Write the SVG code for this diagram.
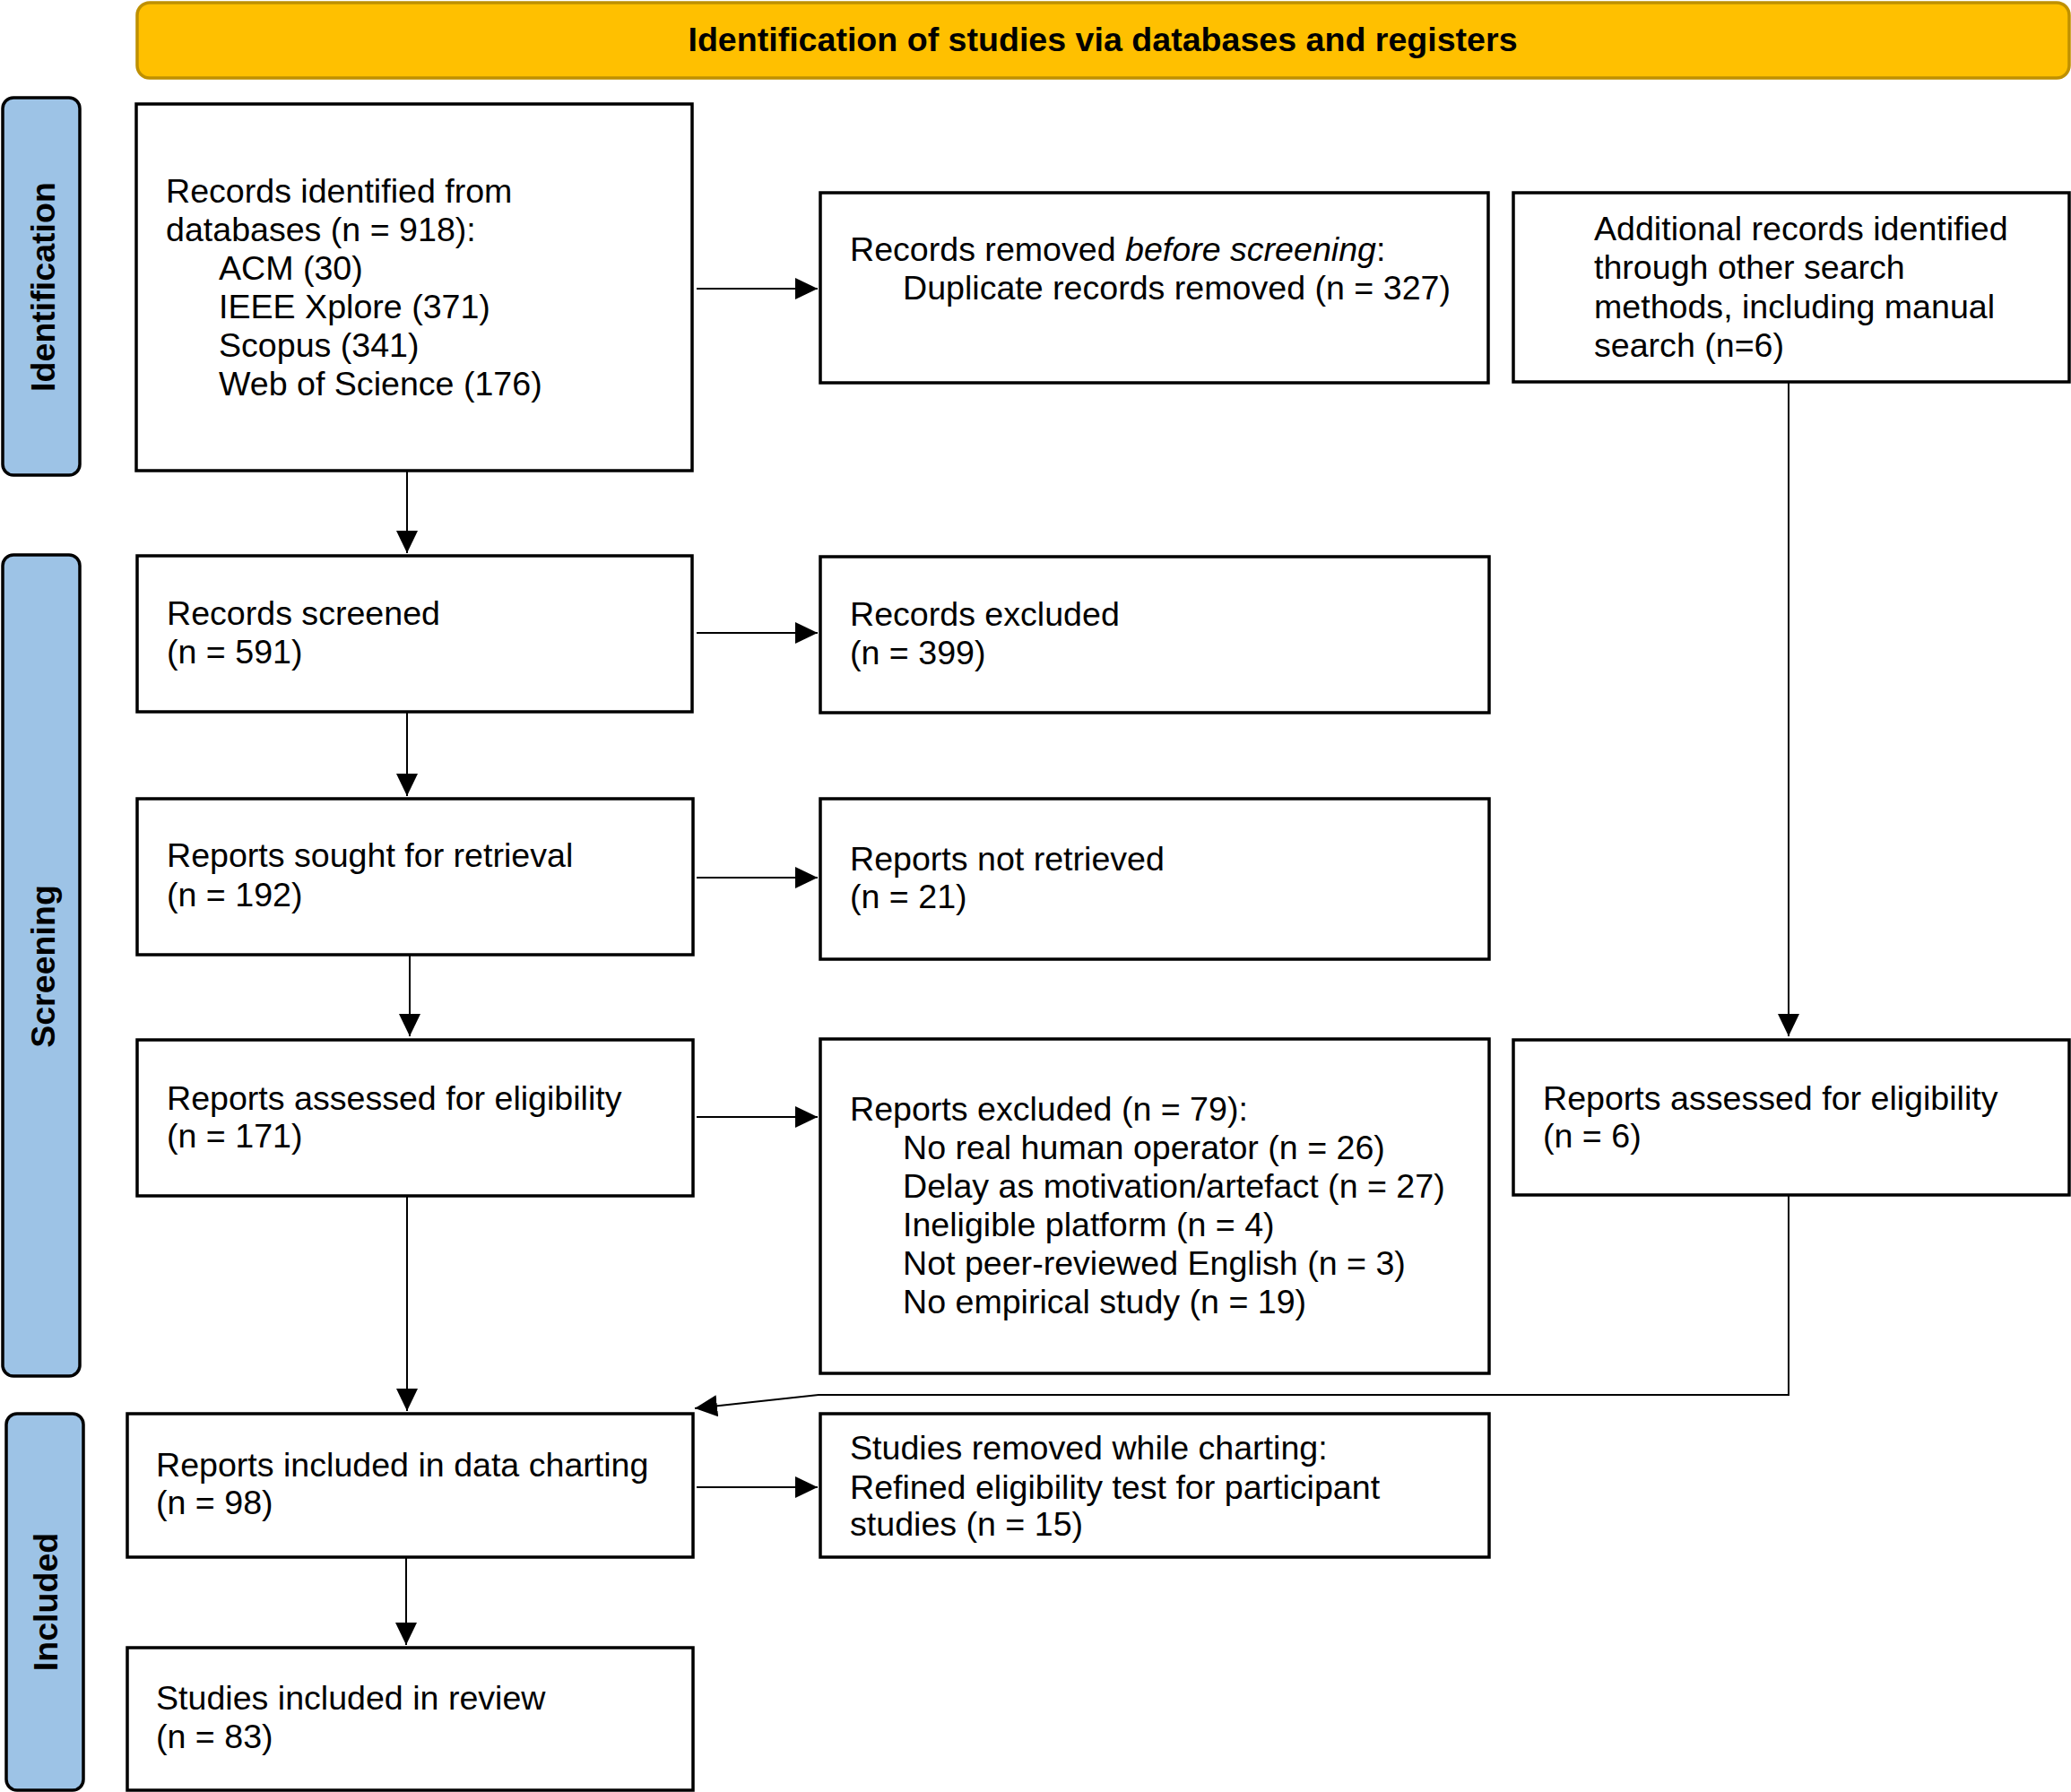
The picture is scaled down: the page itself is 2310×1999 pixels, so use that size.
<svg xmlns="http://www.w3.org/2000/svg" width="2310" height="1999" viewBox="0 0 2310 1999">
<defs>
<style>
.box{fill:#fff;stroke:#000;stroke-width:3.5}
.side{fill:#9DC3E6;stroke:#000;stroke-width:3.5}
.banner{fill:#FFC000;stroke:#BF9000;stroke-width:3.5}
.t{font-family:"Liberation Sans",Arial,sans-serif;font-size:37.6px;fill:#000}
.b{font-family:"Liberation Sans",Arial,sans-serif;font-size:37.6px;font-weight:bold;fill:#000}
.c{fill:none;stroke:#000;stroke-width:2}
</style>
<marker id="ah" markerUnits="userSpaceOnUse" markerWidth="26" markerHeight="24" refX="25" refY="12" orient="auto" viewBox="0 0 26 24">
<path d="M0,0 L25,12 L0,24 Z" fill="#000"/>
</marker>
</defs>
<rect width="2310" height="1999" fill="#fff"/>

<g id="banner">
<rect class="banner" x="153" y="3" width="2155" height="84" rx="14"/>
<text class="b" x="1230" y="57" text-anchor="middle">Identification of studies via databases and registers</text>
</g>

<g id="side-identification">
<rect class="side" x="3" y="109" width="86" height="421" rx="12"/>
<text class="b" transform="translate(61,320) rotate(-90)" text-anchor="middle">Identification</text>
</g>
<g id="side-screening">
<rect class="side" x="3" y="619" width="86" height="916" rx="12"/>
<text class="b" transform="translate(61,1078) rotate(-90)" text-anchor="middle">Screening</text>
</g>
<g id="side-included">
<rect class="side" x="7" y="1577" width="86" height="420" rx="12"/>
<text class="b" transform="translate(64,1787) rotate(-90)" text-anchor="middle">Included</text>
</g>

<g id="records-identified">
<rect class="box" x="152" y="116" width="620" height="409"/>
<text class="t" x="185" y="226">Records identified from</text>
<text class="t" x="185" y="269">databases (n = 918):</text>
<text class="t" x="244" y="312">ACM (30)</text>
<text class="t" x="244" y="355">IEEE Xplore (371)</text>
<text class="t" x="244" y="398">Scopus (341)</text>
<text class="t" x="244" y="441">Web of Science (176)</text>
</g>

<g id="records-removed">
<rect class="box" x="915" y="215" width="745" height="212"/>
<text class="t" x="948" y="291">Records removed <tspan font-style="italic">before screening</tspan>:</text>
<text class="t" x="1007" y="334">Duplicate records removed (n = 327)</text>
</g>

<g id="additional-records">
<rect class="box" x="1688" y="215" width="620" height="211"/>
<text class="t" x="1778" y="268">Additional records identified</text>
<text class="t" x="1778" y="311">through other search</text>
<text class="t" x="1778" y="355">methods, including manual</text>
<text class="t" x="1778" y="398">search (n=6)</text>
</g>

<g id="records-screened">
<rect class="box" x="153" y="620" width="619" height="174"/>
<text class="t" x="186" y="697">Records screened</text>
<text class="t" x="186" y="740">(n = 591)</text>
</g>

<g id="records-excluded">
<rect class="box" x="915" y="621" width="746" height="174"/>
<text class="t" x="948" y="698">Records excluded</text>
<text class="t" x="948" y="741">(n = 399)</text>
</g>

<g id="reports-sought">
<rect class="box" x="153" y="891" width="620" height="174"/>
<text class="t" x="186" y="967">Reports sought for retrieval</text>
<text class="t" x="186" y="1011">(n = 192)</text>
</g>

<g id="reports-not-retrieved">
<rect class="box" x="915" y="891" width="746" height="179"/>
<text class="t" x="948" y="971">Reports not retrieved</text>
<text class="t" x="948" y="1013">(n = 21)</text>
</g>

<g id="reports-assessed">
<rect class="box" x="153" y="1160" width="620" height="174"/>
<text class="t" x="186" y="1238">Reports assessed for eligibility</text>
<text class="t" x="186" y="1280">(n = 171)</text>
</g>

<g id="reports-excluded">
<rect class="box" x="915" y="1159" width="746" height="373"/>
<text class="t" x="948" y="1250">Reports excluded (n = 79):</text>
<text class="t" x="1007" y="1293">No real human operator (n = 26)</text>
<text class="t" x="1007" y="1336">Delay as motivation/artefact (n = 27)</text>
<text class="t" x="1007" y="1379">Ineligible platform (n = 4)</text>
<text class="t" x="1007" y="1422">Not peer-reviewed English (n = 3)</text>
<text class="t" x="1007" y="1465">No empirical study (n = 19)</text>
</g>

<g id="reports-assessed-other">
<rect class="box" x="1688" y="1160" width="620" height="173"/>
<text class="t" x="1721" y="1238">Reports assessed for eligibility</text>
<text class="t" x="1721" y="1280">(n = 6)</text>
</g>

<g id="reports-included">
<rect class="box" x="142" y="1577" width="631" height="160"/>
<text class="t" x="174" y="1647">Reports included in data charting</text>
<text class="t" x="174" y="1689">(n = 98)</text>
</g>

<g id="studies-removed">
<rect class="box" x="915" y="1577" width="746" height="160"/>
<text class="t" x="948" y="1628">Studies removed while charting:</text>
<text class="t" x="948" y="1672">Refined eligibility test for participant</text>
<text class="t" x="948" y="1713">studies (n = 15)</text>
</g>

<g id="studies-included">
<rect class="box" x="142" y="1838" width="631" height="159"/>
<text class="t" x="174" y="1907">Studies included in review</text>
<text class="t" x="174" y="1950">(n = 83)</text>
</g>

<g id="connectors">
<line class="c" x1="777" y1="322" x2="912" y2="322" marker-end="url(#ah)"/>
<line class="c" x1="454" y1="525" x2="454" y2="617" marker-end="url(#ah)"/>
<line class="c" x1="777" y1="706" x2="912" y2="706" marker-end="url(#ah)"/>
<line class="c" x1="454" y1="795" x2="454" y2="888" marker-end="url(#ah)"/>
<line class="c" x1="777" y1="979" x2="912" y2="979" marker-end="url(#ah)"/>
<line class="c" x1="457" y1="1066" x2="457" y2="1156" marker-end="url(#ah)"/>
<line class="c" x1="777" y1="1246" x2="912" y2="1246" marker-end="url(#ah)"/>
<line class="c" x1="454" y1="1335" x2="454" y2="1574" marker-end="url(#ah)"/>
<line class="c" x1="1995" y1="427" x2="1995" y2="1156" marker-end="url(#ah)"/>
<polyline class="c" points="1995,1334 1995,1556 913,1556 775,1571" marker-end="url(#ah)"/>
<line class="c" x1="777" y1="1659" x2="912" y2="1659" marker-end="url(#ah)"/>
<line class="c" x1="453" y1="1738" x2="453" y2="1835" marker-end="url(#ah)"/>
</g>
</svg>
